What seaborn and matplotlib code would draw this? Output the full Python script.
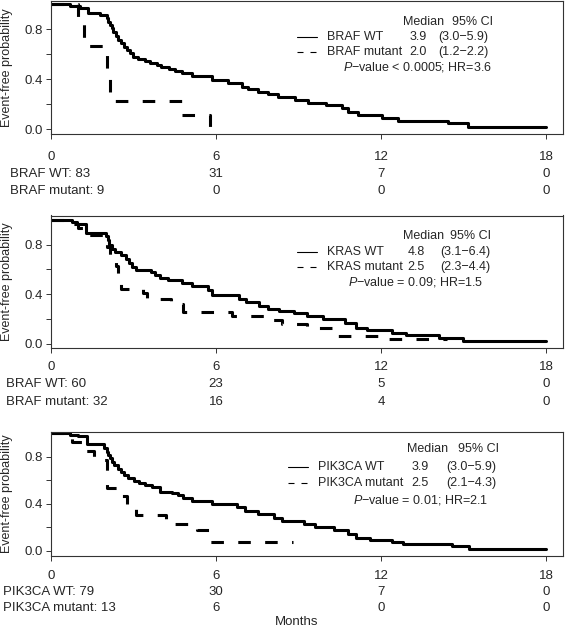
import numpy as np
import pandas as pd
import matplotlib
matplotlib.use("Agg")
import matplotlib.pyplot as plt
from matplotlib.lines import Line2D
from matplotlib.transforms import blended_transform_factory
import seaborn as sns

# Kaplan-Meier steps (months, event-free probability)
braf_wt_t = [0, 0.69, 1.05, 1.36, 1.78, 2.02, 2.09, 2.15, 2.21, 2.27, 2.36, 2.45, 2.55, 2.65, 2.76,
             2.88, 3.0, 3.16, 3.43, 3.61, 3.85, 4.01, 4.28, 4.52, 4.76, 5.13, 5.85, 6.45, 6.93, 7.18,
             7.54, 7.9, 8.27, 8.87, 9.36, 10.0, 10.57, 10.81, 11.17, 12.02, 12.63, 14.45, 15.17, 18.0]
braf_wt_s = [1.0, 0.988, 0.968, 0.928, 0.914, 0.888, 0.861, 0.835, 0.808, 0.781, 0.746, 0.714, 0.688, 0.661, 0.634,
             0.608, 0.581, 0.56, 0.549, 0.533, 0.514, 0.496, 0.482, 0.466, 0.453, 0.426, 0.394, 0.368, 0.341, 0.32,
             0.301, 0.282, 0.256, 0.234, 0.208, 0.19, 0.168, 0.141, 0.114, 0.09, 0.066, 0.046, 0.02, 0.02]
braf_mut_t = [0, 1.0, 1.19, 2.02, 2.15, 4.76, 5.8]
braf_mut_s = [1.0, 0.889, 0.667, 0.444, 0.222, 0.111, 0.0]

kras_wt_t = [0, 0.75, 0.93, 1.26, 2.0, 2.06, 2.12, 2.21, 2.33, 2.55, 2.73, 2.84, 2.96, 3.08, 3.64,
             3.78, 3.97, 4.27, 4.75, 5.12, 5.72, 5.84, 6.85, 7.1, 7.55, 7.9, 8.3, 8.85, 9.3, 9.9,
             10.7, 11.1, 11.5, 12.4, 12.9, 14.1, 15.0, 18.0]
kras_wt_s = [1.0, 0.98, 0.965, 0.894, 0.867, 0.835, 0.8, 0.766, 0.739, 0.72, 0.68, 0.653, 0.621, 0.595, 0.579,
             0.552, 0.528, 0.512, 0.488, 0.467, 0.435, 0.395, 0.365, 0.335, 0.307, 0.28, 0.262, 0.245, 0.22, 0.2,
             0.17, 0.13, 0.11, 0.085, 0.07, 0.05, 0.025, 0.025]
kras_mut_t = [0, 0.8, 1.0, 1.3, 2.05, 2.15, 2.35, 2.45, 2.55, 3.35, 3.5, 4.36, 4.8, 6.6, 7.9,
              8.4, 9.3, 10.45, 11.9, 14.4]
kras_mut_s = [1.0, 0.969, 0.938, 0.875, 0.781, 0.719, 0.625, 0.563, 0.438, 0.406, 0.36, 0.32, 0.26, 0.225, 0.19,
              0.16, 0.13, 0.065, 0.035, 0.035]

pik_wt_t = [0, 0.69, 1.0, 1.3, 1.94, 2.02, 2.08, 2.15, 2.21, 2.3, 2.42, 2.55, 2.67, 2.81, 3.03,
            3.2, 3.42, 3.66, 3.96, 4.39, 4.63, 4.81, 5.12, 5.84, 6.75, 7.05, 7.54, 8.1, 8.4, 9.2,
            9.6, 10.3, 10.8, 11.1, 11.6, 12.4, 12.8, 14.6, 15.2, 18.0]
pik_wt_s = [1.0, 0.99, 0.976, 0.908, 0.879, 0.843, 0.814, 0.786, 0.757, 0.729, 0.70, 0.672, 0.644, 0.616, 0.596,
            0.573, 0.559, 0.539, 0.5, 0.488, 0.474, 0.445, 0.426, 0.397, 0.37, 0.34, 0.31, 0.28, 0.25, 0.23,
            0.205, 0.18, 0.14, 0.11, 0.095, 0.07, 0.058, 0.04, 0.015, 0.015]
pik_mut_t = [0, 0.75, 1.2, 1.58, 2.05, 2.55, 2.78, 3.1, 4.2, 5.3, 5.8, 8.8]
pik_mut_s = [1.0, 0.923, 0.846, 0.769, 0.538, 0.462, 0.385, 0.308, 0.231, 0.173, 0.077, 0.077]

# legend tables
braf_names = ['BRAF WT', 'BRAF mutant']
braf_median = ['3.9', '2.0']
braf_ci = ['(3.0\u22125.9)', '(1.2\u22122.2)']
braf_p = '\u2212value < 0.0005; HR=3.6'
kras_names = ['KRAS WT', 'KRAS mutant']
kras_median = ['4.8', '2.5']
kras_ci = ['(3.1\u22126.4)', '(2.3\u22124.4)']
kras_p = '\u2212value = 0.09; HR=1.5'
pik_names = ['PIK3CA WT', 'PIK3CA mutant']
pik_median = ['3.9', '2.5']
pik_ci = ['(3.0\u22125.9)', '(2.1\u22124.3)']
pik_p = '\u2212value = 0.01; HR=2.1'

# numbers at risk
risk_months = [0, 6, 12, 18]
braf_risk_labels = ['BRAF WT: 83', 'BRAF mutant: 9']
braf_risk = [[31, 7, 0], [0, 0, 0]]
kras_risk_labels = ['BRAF WT: 60', 'BRAF mutant: 32']
kras_risk = [[23, 5, 0], [16, 4, 0]]
pik_risk_labels = ['PIK3CA WT: 79', 'PIK3CA mutant: 13']
pik_risk = [[30, 7, 0], [6, 0, 0]]

sns.set_theme(style="ticks")
plt.rcParams['font.family'] = ['Liberation Sans', 'DejaVu Sans']
plt.rcParams['mathtext.fontset'] = 'custom'
plt.rcParams['mathtext.rm'] = 'Liberation Sans'
plt.rcParams['mathtext.it'] = 'Liberation Sans:italic'
FS = 9.5   # axis / at-risk text
LFS = 9    # legend block

W, H = 565, 628
fig = plt.figure(figsize=(W / 100, H / 100), dpi=100)


def fy(y):  # image row (px from top) -> figure fraction
    return 1 - y / H


def fx(x):
    return x / W


# lx: line sample left, name left, 'Median' centre, '95% CI' centre, median centre, CI centre, P-value left
panels = [
    dict(wt=(braf_wt_t, braf_wt_s), mut=(braf_mut_t, braf_mut_s), top=1, bottom=133.5, ylim=(-0.035, 1.028),
         names=braf_names, med=braf_median, ci=braf_ci, p=braf_p,
         ly=(21.7, 37.3, 51.7, 66.7), lx=(297, 327, 424, 473, 418, 463, 343),
         rl=braf_risk_labels, rv=braf_risk, ry=(157, 174, 191.5), rx=10),
    dict(wt=(kras_wt_t, kras_wt_s), mut=(kras_mut_t, kras_mut_s), top=215.5, bottom=347.7, ylim=(-0.032, 1.035),
         names=kras_names, med=kras_median, ci=kras_ci, p=kras_p,
         ly=(235.7, 251.7, 266.7, 282.3), lx=(297, 327, 424, 471, 416, 465, 348),
         rl=kras_risk_labels, rv=kras_risk, ry=(366.7, 384, 401.7), rx=6.5),
    dict(wt=(pik_wt_t, pik_wt_s), mut=(pik_mut_t, pik_mut_s), top=431.5, bottom=555.5, ylim=(-0.041, 1.016),
         names=pik_names, med=pik_median, ci=pik_ci, p=pik_p,
         ly=(449, 466.7, 483.3, 500), lx=(288, 318, 428, 478, 420, 471, 353),
         rl=pik_risk_labels, rv=pik_risk, ry=(576, 591.7, 607.7), rx=3.3),
]

x_left, x_right = 51, 563
for pn in panels:
    ax = fig.add_axes([fx(x_left), fy(pn['bottom']), fx(x_right - x_left), (pn['bottom'] - pn['top']) / H])
    sns.lineplot(x=pn['wt'][0], y=pn['wt'][1], ax=ax, color='black', lw=2.2,
                 drawstyle='steps-post', estimator=None, sort=False)
    sns.lineplot(x=pn['mut'][0], y=pn['mut'][1], ax=ax, color='black', lw=2.2,
                 drawstyle='steps-post', estimator=None, sort=False, linestyle=(0, (4.1, 4.7)))
    ax.set_xlim(0, 18.62)
    ax.set_ylim(*pn['ylim'])
    ax.set_xticks(risk_months)
    ax.set_xticklabels([])
    ax.set_yticks([0, 0.2, 0.4, 0.6, 0.8])
    ax.set_yticklabels(['0.0', '', '0.4', '', '0.8'], fontsize=FS)
    ax.tick_params(axis='both', length=3.6, width=0.7, color='#333333', pad=2)
    ax.set_xlabel('')
    ax.set_ylabel('')
    for sp in ax.spines.values():
        sp.set_linewidth(0.8)
        sp.set_color('#333333')

    # y label
    fig.text(fx(7), fy((pn['top'] + pn['bottom']) / 2), 'Event-free probability', rotation=90,
             ha='center', va='center', fontsize=9)

    # legend block
    lxl, lxt, lxm, lxc, lxv, lxi, lxp = pn['lx']
    y0, y1, y2, y3 = pn['ly']
    fig.text(fx(lxm), fy(y0), 'Median', ha='center', va='center', fontsize=LFS)
    fig.text(fx(lxc), fy(y0), '95% CI', ha='center', va='center', fontsize=LFS)
    fig.add_artist(Line2D([fx(lxl), fx(lxl + 20)], [fy(y1), fy(y1)], color='black', lw=0.8,
                          transform=fig.transFigure))
    fig.add_artist(Line2D([fx(lxl), fx(lxl + 20)], [fy(y2), fy(y2)], color='black', lw=0.8,
                          linestyle=(0, (5.4, 6.3)), transform=fig.transFigure))
    for yy, nm, md, ci in zip((y1, y2), pn['names'], pn['med'], pn['ci']):
        fig.text(fx(lxt), fy(yy), nm, ha='left', va='center', fontsize=LFS)
        fig.text(fx(lxv), fy(yy), md, ha='center', va='center', fontsize=LFS)
        fig.text(fx(lxi), fy(yy), ci, ha='center', va='center', fontsize=LFS)
    fig.text(fx(lxp), fy(y3), r'$\it{P}$' + pn['p'], ha='left', va='center', fontsize=LFS)

    # tick labels and numbers at risk
    tr = blended_transform_factory(ax.transData, fig.transFigure)
    for m in risk_months:
        ax.text(m, fy(pn['ry'][0]), str(m), transform=tr, ha='center', va='center', fontsize=FS)
    for yy, lab, vals in zip(pn['ry'][1:], pn['rl'], pn['rv']):
        fig.text(fx(pn['rx']), fy(yy), lab, ha='left', va='center', fontsize=FS)
        for m, v in zip(risk_months[1:], vals):
            ax.text(m, fy(yy), str(v), transform=tr, ha='center', va='center', fontsize=FS)

fig.text(fx(297), fy(621.7), 'Months', ha='center', va='center', fontsize=FS)

fig.savefig('out.png', dpi=100)
